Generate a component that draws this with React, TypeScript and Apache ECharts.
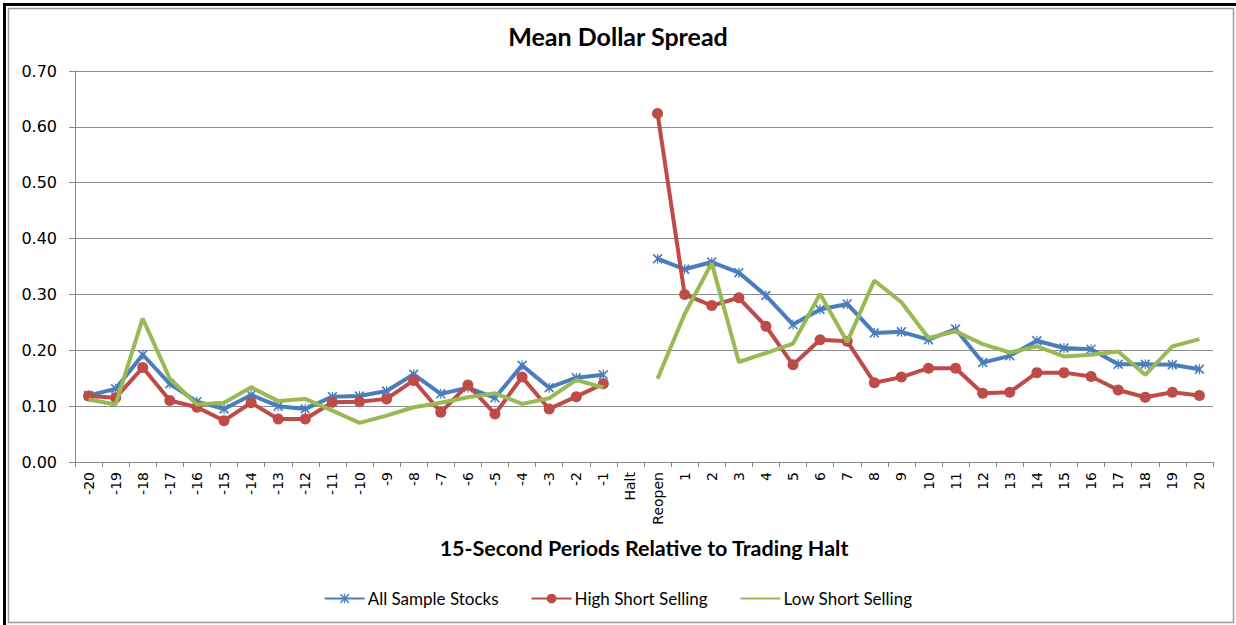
import React, { useEffect, useRef } from "react";
import * as echarts from "echarts";

const categories: string[] = [
  "-20", "-19", "-18", "-17", "-16", "-15", "-14", "-13", "-12", "-11",
  "-10", "-9", "-8", "-7", "-6", "-5", "-4", "-3", "-2", "-1",
  "Halt", "Reopen",
  "1", "2", "3", "4", "5", "6", "7", "8", "9", "10",
  "11", "12", "13", "14", "15", "16", "17", "18", "19", "20",
];

const allSample: (number | null)[] = [
  0.119, 0.131, 0.192, 0.140, 0.108, 0.095, 0.120, 0.100, 0.095, 0.117,
  0.118, 0.127, 0.157, 0.122, 0.133, 0.115, 0.173, 0.133, 0.151, 0.156,
  null,
  0.364, 0.345, 0.358, 0.339, 0.298, 0.246, 0.273, 0.283, 0.231, 0.233, 0.219,
  0.238, 0.178, 0.190, 0.217, 0.204, 0.202, 0.175, 0.175, 0.174, 0.166,
];

const highShort: (number | null)[] = [
  0.118, 0.115, 0.169, 0.110, 0.098, 0.074, 0.106, 0.077, 0.077, 0.107,
  0.108, 0.113, 0.146, 0.089, 0.138, 0.086, 0.152, 0.095, 0.117, 0.140,
  null,
  0.624, 0.300, 0.280, 0.294, 0.243, 0.174, 0.219, 0.216, 0.142, 0.152, 0.168,
  0.168, 0.123, 0.125, 0.160, 0.160, 0.153, 0.129, 0.116, 0.125, 0.119,
];

const lowShort: (number | null)[] = [
  0.112, 0.103, 0.257, 0.149, 0.103, 0.106, 0.134, 0.109, 0.113, 0.092,
  0.070, 0.083, 0.098, 0.106, 0.116, 0.123, 0.104, 0.114, 0.147, 0.133,
  null,
  0.149, 0.265, 0.356, 0.179, 0.195, 0.212, 0.301, 0.215, 0.325, 0.286, 0.222,
  0.234, 0.211, 0.196, 0.207, 0.189, 0.192, 0.198, 0.156, 0.207, 0.220,
];

const seriesNames = ["All Sample Stocks", "High Short Selling", "Low Short Selling"];

const STAR =
  "path://M0,1.2L1.2,0L10,8.8L8.8,10ZM8.8,0L10,1.2L1.2,10L0,8.8ZM4.4,0L5.6,0L5.6,10L4.4,10Z";

export default function App() {
  const ref = useRef<HTMLDivElement>(null);

  useEffect(() => {
    if (!ref.current) return;
    const chart = echarts.init(ref.current, undefined, { renderer: "svg" });
    const option: any = {
      animation: false,
      backgroundColor: "#ffffff",
      title: {
        text: "Mean Dollar Spread",
        left: "center",
        top: 18,
        textStyle: {
          fontFamily: "Lato",
          fontWeight: "bold",
          fontSize: 25,
          color: "#000",
        },
      },
      graphic: [
        {
          type: "rect",
          shape: { x: 8.5, y: 8.5, width: 1225, height: 614 },
          style: { fill: "none", stroke: "#9a9a9a", lineWidth: 1.5 },
          silent: true,
        },
        {
          type: "rect",
          shape: { x: 3, y: 3, width: 1233, height: 3 },
          style: { fill: "#000" },
          silent: true,
        },
        {
          type: "rect",
          shape: { x: 3, y: 3, width: 3, height: 622 },
          style: { fill: "#000" },
          silent: true,
        },
      ],
      legend: {
        data: [
          { name: seriesNames[0] },
          { name: seriesNames[1] },
          { name: seriesNames[2], itemStyle: { opacity: 0 } },
        ],
        top: 585,
        left: "center",
        itemWidth: 40,
        itemHeight: 12,
        itemGap: 32,
        textStyle: { fontFamily: "Lato", fontSize: 17, color: "#000", padding: [0, 0, 0, -2] },
      },
      grid: { left: 75, right: 23, top: 71, bottom: 163, containLabel: false },
      xAxis: {
        type: "category",
        data: categories,
        boundaryGap: true,
        name: "15-Second Periods Relative to Trading Halt",
        nameLocation: "middle",
        nameGap: 75,
        nameTextStyle: {
          fontFamily: "Lato",
          fontWeight: "bold",
          fontSize: 21.5,
          color: "#000",
        },
        axisLine: { lineStyle: { color: "#888", width: 1 } },
        axisTick: { show: true, length: 5, lineStyle: { color: "#888" } },
        axisLabel: {
          rotate: 90,
          interval: 0,
          fontFamily: "DejaVu Sans",
          fontSize: 14,
          color: "#000",
          margin: 10,
        },
        splitLine: { show: false },
      },
      yAxis: {
        type: "value",
        min: 0,
        max: 0.7,
        interval: 0.1,
        axisLine: { show: true, lineStyle: { color: "#888", width: 1 } },
        axisTick: { show: true, length: 6, lineStyle: { color: "#888" } },
        axisLabel: {
          formatter: (v: number) => v.toFixed(2),
          fontFamily: "DejaVu Sans",
          fontSize: 16,
          color: "#000",
          margin: 18,
        },
        splitLine: { show: true, lineStyle: { color: "#8c8c8c", width: 1 } },
      },
      series: [
        {
          name: seriesNames[0],
          type: "line",
          data: allSample,
          connectNulls: false,
          symbol: STAR,
          symbolSize: 10,
          showSymbol: true,
          itemStyle: { color: "#4a7ebb" },
          lineStyle: { color: "#4a7ebb", width: 4 },
          z: 2,
        },
        {
          name: seriesNames[1],
          type: "line",
          data: highShort,
          connectNulls: false,
          symbol: "circle",
          symbolSize: 11,
          showSymbol: true,
          itemStyle: { color: "#be4b48" },
          lineStyle: { color: "#be4b48", width: 4 },
          z: 3,
        },
        {
          name: seriesNames[2],
          type: "line",
          data: lowShort,
          connectNulls: false,
          symbol: "none",
          showSymbol: false,
          itemStyle: { color: "#98b954" },
          lineStyle: { color: "#98b954", width: 4 },
          z: 4,
        },
      ],
    };
    chart.setOption(option);
    return () => chart.dispose();
  }, []);

  return (
    <div
      ref={ref}
      style={{ position: "fixed", left: 0, top: 0, width: 1236, height: 625 }}
    />
  );
}
